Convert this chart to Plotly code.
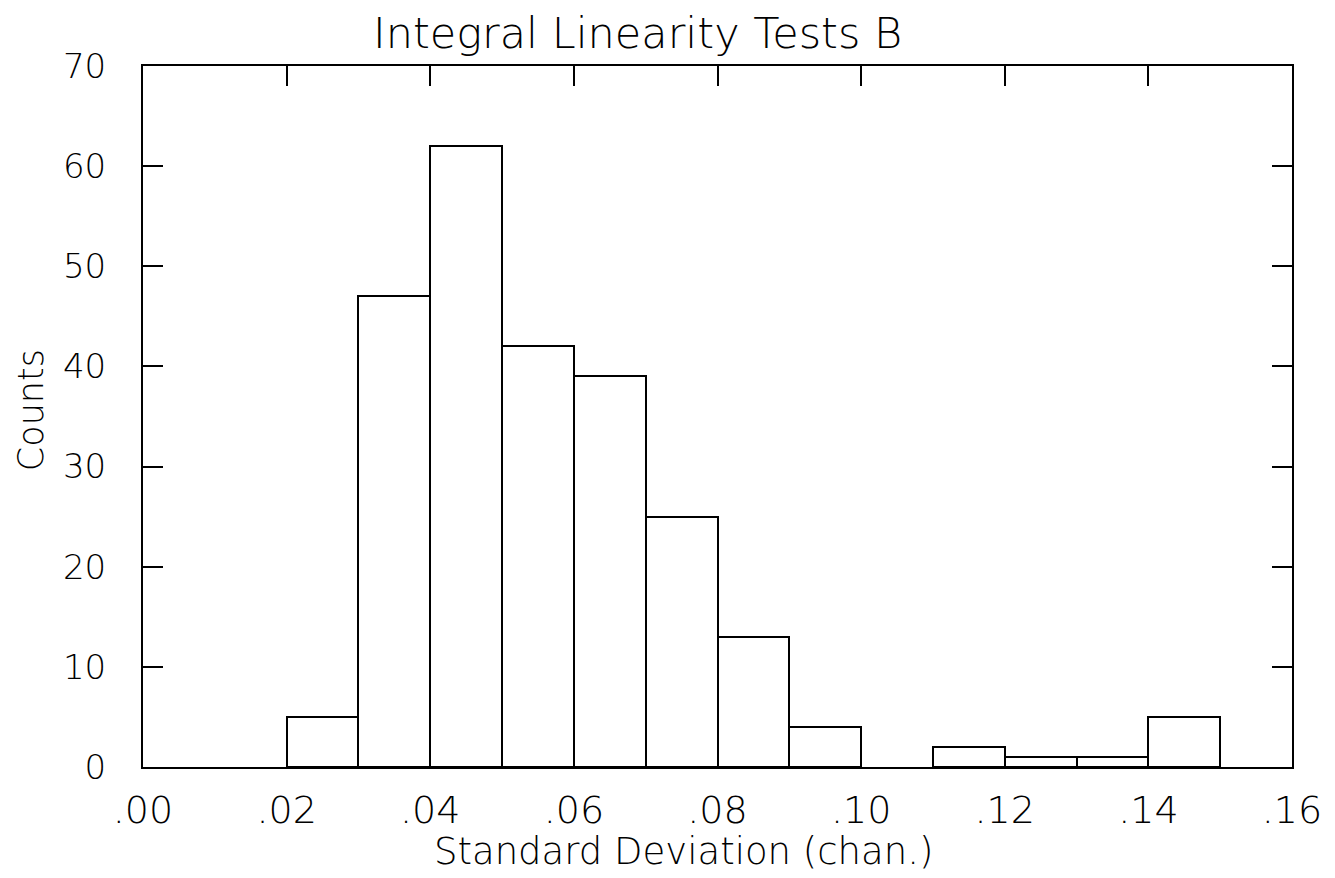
import plotly.graph_objects as go

# Histogram of standard deviations (bin width 0.01)
bin_left = [0.00, 0.01, 0.02, 0.03, 0.04, 0.05, 0.06, 0.07, 0.08, 0.09,
            0.10, 0.11, 0.12, 0.13, 0.14, 0.15]
counts = [0, 0, 5, 47, 62, 42, 39, 25, 13, 4, 0, 2, 1, 1, 5, 0]
bin_width = 0.01

x_tickvals = [0.00, 0.02, 0.04, 0.06, 0.08, 0.10, 0.12, 0.14, 0.16]
x_ticktext = [".00", ".02", ".04", ".06", ".08", ".10", ".12", ".14", ".16"]
y_tickvals = [0, 10, 20, 30, 40, 50, 60, 70]

title_text = "Integral Linearity Tests B"
x_title = "Standard Deviation (chan.)"
y_title = "Counts"

FONT = "DejaVu Sans"
W = 200

centers = [b + bin_width / 2 for b in bin_left]
plot_x = [c for c, n in zip(centers, counts) if n > 0]
plot_y = [n for n in counts if n > 0]

fig = go.Figure()
fig.add_trace(go.Bar(
    x=plot_x, y=plot_y, width=bin_width,
    marker=dict(color="white", line=dict(color="black", width=2)),
    showlegend=False, hoverinfo="skip"))

axis_common = dict(showline=True, linecolor="black", linewidth=2, mirror="allticks",
                   ticks="inside", ticklen=20, tickwidth=2, tickcolor="black",
                   showgrid=False, zeroline=False)

fig.update_xaxes(range=[0, 0.16], tickvals=x_tickvals, ticktext=x_ticktext,
                 ticklabelstandoff=8,
                 tickfont=dict(family=FONT, size=38, color="black", weight=W),
                 **axis_common)
fig.update_yaxes(range=[0, 70], tickvals=y_tickvals, ticklabelstandoff=28,
                 tickfont=dict(family=FONT, size=34, color="black", weight=W),
                 **axis_common)

fig.update_layout(
    width=1335, height=878,
    margin=dict(l=143, r=43, t=66, b=111),
    plot_bgcolor="white", paper_bgcolor="white",
    bargap=0,
    annotations=[
        dict(text=title_text, xref="paper", yref="paper", x=0.4305, y=1.047,
             xanchor="center", yanchor="middle", showarrow=False,
             font=dict(family=FONT, size=43, color="black", weight=W)),
        dict(text=x_title, xref="paper", yref="paper", x=0.470, y=-0.121,
             xanchor="center", yanchor="middle", showarrow=False,
             font=dict(family=FONT, size=37, color="black", weight=W)),
        dict(text=y_title, xref="paper", yref="paper", x=-0.0975, y=0.509,
             xanchor="center", yanchor="middle", showarrow=False, textangle=-90,
             font=dict(family=FONT, size=35, color="black", weight=W)),
    ],
)

fig.write_html("out.html")
